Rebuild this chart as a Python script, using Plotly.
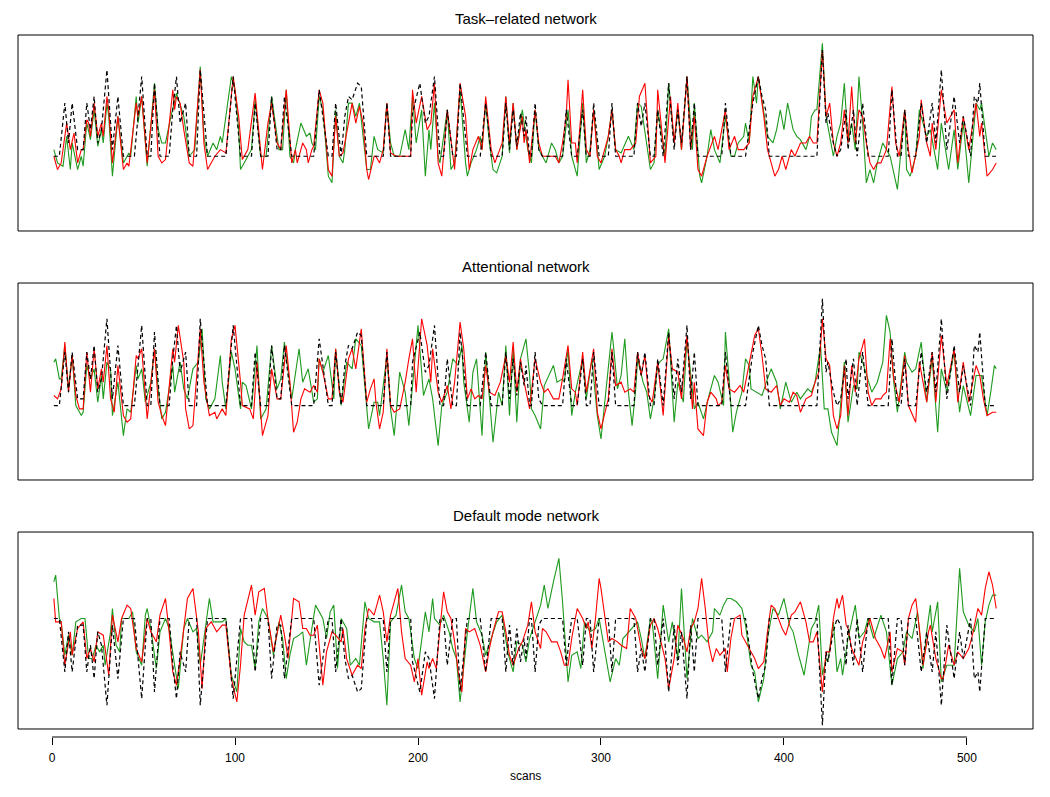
import plotly.graph_objects as go

# ---------------- data: (scan, value) pairs ----------------
TASK_MODEL = [(1,0),(4,0),(7,16),(9,4),(11,16),(14,2),(17,2),(19,16),(21,8),(23,18),(25,4),(27,8),(30,26),(33,2),(36,18),(39,0),(45,0),(47,12),(49,24),(52,0),(54,0),(56,22),(59,0),(64,0),(66,14),(68,24),(70,10),(73,16),(75,0),(79,0),(81,26),(85,0),(95,0),(99,24),(103,0),(109,0),(111,16),(114,0),(118,0),(120,18),(123,2),(125,2),(127,18),(131,0),(143,0),(146,20),(151,0),(153,0),(155,16),(158,0),(160,12),(162,18),(164,17),(167,22),(169,21),(172,0),(181,0),(183,16),(185,0),(196,0),(197,13),(201,22),(204,10),(206,12),(209,24),(212,0),(214,0),(216,14),(219,0),(221,0),(223,22),(227,0),(234,0),(237,16),(240,0),(246,0),(248,16),(250,2),(252,14),(254,3),(256,13),(258,6),(259,12),(261,0),(262,0),(264,16),(266,2),(268,0),(279,0),(281,14),(284,0),(287,0),(290,14),(292,0),(294,0),(296,16),(299,0),(304,0),(306,16),(308,0),(318,0),(320,16),(322,9),(324,16),(327,0),(329,0),(331,14),(334,0),(337,22),(340,2),(342,14),(344,4),(347,24),(349,2),(351,16),(353,0),(366,0),(368,16),(371,0),(379,0),(380,4),(383,16),(386,24),(388,18),(390,14),(392,0),(399,0),(418,0),(421,32),(423,10),(424,13),(427,4),(429,0),(431,2),(434,14),(435,2),(438,14),(440,0),(443,16),(446,0),(457,0),(459,20),(462,0),(464,0),(466,14),(468,0),(472,0),(475,16),(478,4),(481,16),(483,4),(486,26),(489,2),(493,18),(496,4),(498,12),(502,0),(504,18),(506,16),(507,22),(510,0),(516,0)]

DMN_MODEL = [(1,0),(4,0),(7,-16),(9,-4),(11,-16),(14,-2),(17,-2),(19,-16),(21,-8),(23,-18),(25,-4),(27,-8),(30,-26),(33,-2),(36,-18),(39,0),(45,0),(47,-12),(49,-24),(52,0),(54,0),(56,-22),(59,0),(64,0),(66,-14),(68,-24),(70,-10),(73,-16),(75,0),(79,0),(81,-26),(85,0),(95,0),(99,-24),(103,0),(109,0),(111,-16),(114,0),(118,0),(120,-18),(123,-2),(125,-2),(127,-18),(131,0),(143,0),(146,-20),(151,0),(153,0),(155,-16),(158,0),(160,-12),(162,-18),(164,-17),(167,-22),(169,-21),(172,0),(181,0),(183,-16),(185,0),(196,0),(197,-13),(201,-22),(204,-10),(206,-12),(209,-24),(212,0),(214,0),(216,-14),(219,0),(221,0),(223,-22),(227,0),(234,0),(237,-16),(240,0),(246,0),(248,-16),(250,-2),(252,-14),(254,-3),(256,-13),(258,-6),(259,-12),(261,0),(262,0),(264,-16),(266,-2),(268,0),(279,0),(281,-14),(284,0),(287,0),(290,-14),(292,0),(294,0),(296,-16),(299,0),(304,0),(306,-16),(308,0),(318,0),(320,-16),(322,-9),(324,-16),(327,0),(329,0),(331,-14),(334,0),(337,-22),(340,-2),(342,-14),(344,-4),(347,-24),(349,-2),(351,-16),(353,0),(366,0),(368,-16),(371,0),(379,0),(380,-4),(383,-16),(386,-24),(388,-18),(390,-14),(392,0),(399,0),(418,0),(421,-32),(423,-10),(424,-13),(427,-4),(429,0),(431,-2),(434,-14),(435,-2),(438,-14),(440,0),(443,-16),(446,0),(457,0),(459,-20),(462,0),(464,0),(466,-14),(468,0),(472,0),(475,-16),(478,-4),(481,-16),(483,-4),(486,-26),(489,-2),(493,-18),(496,-4),(498,-12),(502,0),(504,-18),(506,-16),(507,-22),(510,0),(516,0)]

TASK_RED = [(1,0),(3,-4),(5,-2),(8,10),(10,2),(12,7),(14,-2),(16,2),(17,2),(19,11),(20,10),(21,6),(23,16),(25,6),(27,10),(28,6),(30,18),(31,14),(33,-2),(36,12),(39,-4),(41,-2),(42,-3),(46,16),(47,12),(49,18),(52,-2),(56,20),(58,0),(60,-2),(62,-1),(66,20),(67,14),(68,18),(70,16),(72,8),(75,-2),(77,-3),(81,26),(83,4),(85,-4),(89,0),(92,2),(95,1),(99,24),(102,12),(104,-1),(107,2),(111,19),(115,-4),(118,10),(120,16),(123,4),(125,2),(128,20),(131,-2),(133,2),(134,-2),(137,4),(139,2),(140,-2),(142,2),(143,3),(146,20),(148,16),(151,-4),(153,-6),(155,12),(157,0),(159,1),(162,10),(164,16),(166,10),(168,15),(170,10),(172,-4),(173,-7),(176,0),(177,0),(179,-2),(181,2),(183,16),(185,1),(188,0),(192,0),(196,0),(197,20),(199,10),(202,18),(205,8),(207,10),(209,22),(211,-2),(213,-6),(216,14),(218,4),(220,-4),(223,22),(226,12),(228,-4),(230,2),(233,6),(235,2),(237,18),(240,2),(242,-2),(246,4),(248,18),(250,4),(252,16),(254,2),(257,12),(258,4),(259,8),(261,-2),(264,14),(266,4),(268,0),(272,0),(275,0),(277,-2),(279,4),(281,12),(282,23),(284,4),(286,4),(287,-2),(290,20),(292,2),(294,0),(296,14),(298,0),(300,-2),(304,6),(306,14),(308,2),(310,0),(311,-2),(313,2),(316,2),(319,4),(321,18),(324,22),(327,-2),(330,0),(331,20),(335,-2),(338,18),(340,4),(342,16),(344,2),(347,24),(349,2),(351,12),(353,-4),(355,-6),(358,0),(362,6),(364,2),(368,14),(370,2),(373,6),(375,2),(378,2),(381,4),(383,18),(386,24),(389,12),(391,2),(393,-2),(395,-6),(397,-4),(399,0),(401,-4),(404,2),(406,0),(409,4),(412,4),(414,6),(416,4),(418,4),(421,32),(423,12),(425,16),(427,4),(429,0),(431,4),(433,14),(435,4),(437,21),(439,4),(441,14),(443,12),(445,4),(447,-2),(449,-4),(451,-2),(453,-2),(456,2),(459,21),(461,4),(463,0),(466,14),(468,2),(470,-5),(474,6),(475,17),(478,4),(480,0),(481,10),(483,2),(486,20),(489,10),(493,14),(495,-2),(498,12),(501,2),(505,16),(507,6),(508,10),(511,-6),(514,-4),(516,-2)]

TASK_GREEN = [(1,2),(3,-2),(6,-3),(8,6),(10,-4),(11,4),(14,-4),(16,0),(17,-3),(19,10),(21,5),(23,14),(25,3),(27,8),(28,4),(30,16),(31,12),(33,-6),(36,12),(39,-2),(42,1),(43,0),(46,18),(47,10),(49,18),(52,-3),(56,22),(58,8),(60,4),(62,4),(65,12),(68,19),(72,12),(75,0),(78,2),(81,27),(83,6),(85,0),(88,4),(90,2),(92,6),(93,4),(98,24),(100,20),(102,8),(103,-4),(107,0),(109,2),(111,17),(114,0),(117,0),(120,18),(124,2),(126,2),(128,20),(130,0),(132,-2),(133,2),(136,10),(139,6),(141,7),(142,4),(144,2),(146,18),(148,14),(151,-6),(153,-8),(155,14),(157,0),(159,-2),(160,2),(162,16),(164,16),(166,12),(168,16),(172,-4),(174,-4),(176,6),(178,2),(181,1),(183,16),(185,4),(187,0),(190,0),(193,8),(195,2),(197,18),(199,4),(202,14),(204,-6),(206,8),(207,2),(209,16),(211,0),(212,-2),(216,14),(218,-4),(220,-2),(223,20),(226,-2),(227,-6),(229,-2),(232,2),(234,6),(235,2),(237,16),(239,4),(241,-4),(243,-5),(246,0),(248,18),(250,1),(252,16),(254,2),(257,14),(259,6),(260,2),(262,-2),(264,14),(266,2),(270,-2),(273,4),(275,2),(277,-2),(279,0),(282,14),(284,0),(287,-6),(290,16),(292,-2),(294,2),(296,14),(299,-4),(302,0),(304,6),(306,14),(308,2),(311,1),(315,6),(318,2),(320,16),(322,15),(327,-4),(329,-2),(331,14),(335,0),(337,22),(340,4),(342,14),(344,2),(347,24),(350,2),(351,16),(354,-6),(355,-8),(358,0),(360,8),(362,2),(365,-2),(368,12),(371,0),(373,0),(375,4),(378,6),(379,10),(381,4),(383,24),(385,16),(386,24),(391,6),(394,4),(396,8),(398,14),(400,8),(402,16),(405,8),(407,6),(409,5),(412,2),(414,6),(415,12),(417,14),(418,14),(421,34),(423,12),(427,0),(429,6),(431,10),(433,22),(435,4),(437,10),(439,2),(441,24),(443,10),(445,-8),(447,-4),(449,-8),(451,-2),(454,4),(456,2),(458,0),(462,-10),(466,14),(467,-4),(469,-6),(472,0),(474,14),(478,6),(480,8),(482,2),(484,-4),(486,10),(490,-4),(493,8),(495,-4),(498,10),(501,-8),(505,16),(507,14),(508,16),(512,0),(514,4),(516,2)]

ATT_RED = [(1,3),(3,2),(5,5),(7,19),(9,4),(11,15),(13,3),(15,-1),(17,-1),(19,16),(21,4),(23,17),(25,5),(27,11),(28,7),(30,18),(32,2),(34,-2),(36,12),(39,-3),(41,-5),(43,-4),(46,15),(47,14),(49,17),(52,-4),(56,17),(58,1),(60,-3),(62,-6),(66,17),(67,13),(69,24),(72,13),(73,-1),(75,-7),(77,-6),(81,23),(83,7),(86,-3),(89,-2),(90,-4),(93,-1),(95,-3),(98,20),(100,24),(103,7),(104,0),(108,-1),(110,-4),(112,13),(115,-9),(118,-3),(120,11),(123,2),(125,2),(128,18),(130,7),(132,-8),(134,-5),(136,2),(138,5),(141,4),(143,6),(145,4),(146,14),(148,10),(151,2),(153,2),(155,17),(157,4),(159,1),(162,14),(164,17),(166,11),(169,23),(171,8),(172,1),(174,5),(176,8),(177,1),(179,-7),(181,-2),(183,17),(185,0),(187,-2),(190,-1),(193,7),(195,14),(197,20),(199,4),(202,26),(205,18),(207,7),(208,17),(211,4),(213,1),(216,6),(218,-1),(220,7),(223,25),(225,17),(227,2),(229,5),(231,2),(233,3),(235,2),(237,12),(239,4),(242,3),(245,7),(248,15),(250,7),(252,19),(254,4),(256,14),(258,7),(261,-1),(264,14),(267,7),(269,4),(271,5),(274,2),(277,2),(279,8),(282,18),(284,5),(286,4),(287,0),(290,16),(292,4),(296,17),(298,-2),(300,-7),(304,2),(306,17),(308,6),(311,7),(313,4),(316,5),(318,4),(320,16),(322,9),(324,15),(326,3),(328,1),(331,13),(334,-3),(337,21),(339,11),(342,10),(344,2),(347,21),(350,-1),(351,7),(353,-7),(356,-9),(358,1),(360,4),(363,2),(364,0),(366,1),(368,12),(370,5),(373,4),(376,6),(378,4),(381,12),(384,21),(386,23),(388,15),(390,5),(393,4),(396,6),(398,0),(400,2),(403,1),(405,4),(407,3),(409,-2),(412,2),(415,3),(417,7),(419,10),(421,26),(423,14),(425,12),(427,-3),(429,-7),(431,-3),(433,12),(435,-3),(437,12),(439,4),(441,14),(444,20),(446,4),(448,0),(450,2),(453,2),(454,3),(456,4),(458,20),(460,8),(463,1),(466,15),(468,0),(472,-5),(474,13),(478,1),(481,16),(483,1),(486,21),(489,6),(493,17),(495,1),(498,13),(501,1),(505,12),(507,9),(509,2),(511,-3),(514,-2),(516,-2)]

ATT_GREEN = [(1,13),(2,14),(4,8),(5,8),(7,18),(9,5),(11,15),(13,0),(16,-3),(17,-2),(19,12),(21,8),(23,11),(25,1),(27,9),(28,2),(30,13),(32,11),(33,-3),(36,7),(39,-9),(41,-1),(43,-2),(46,12),(47,8),(49,11),(51,1),(54,7),(56,17),(58,5),(60,-4),(62,-2),(66,12),(67,4),(70,13),(72,5),(74,2),(77,11),(80,13),(82,23),(84,2),(86,-1),(89,2),(92,15),(93,7),(95,-1),(98,16),(100,11),(103,-1),(104,7),(106,6),(109,-1),(112,18),(114,-4),(117,-1),(120,18),(123,5),(125,8),(127,19),(131,2),(135,17),(137,7),(140,11),(143,1),(145,2),(146,14),(148,10),(151,15),(154,2),(155,17),(158,0),(161,13),(164,11),(166,20),(169,18),(171,6),(173,-7),(176,1),(178,1),(179,-3),(183,15),(185,-1),(187,-9),(190,10),(193,4),(195,-6),(197,7),(200,24),(203,3),(206,8),(208,2),(211,-12),(213,0),(216,4),(219,14),(222,12),(224,18),(225,7),(228,-5),(230,10),(232,14),(235,-9),(237,16),(241,-11),(244,4),(246,0),(248,18),(250,-3),(252,17),(254,-5),(256,14),(259,20),(261,9),(262,-1),(264,-3),(267,-7),(269,6),(273,11),(274,12),(276,7),(279,8),(280,7),(282,17),(284,-3),(286,4),(290,14),(292,2),(295,14),(298,-3),(300,-10),(304,12),(306,22),(307,17),(309,5),(311,9),(313,20),(315,4),(317,-6),(319,5),(320,14),(323,7),(325,4),(327,-4),(329,2),(331,12),(332,13),(334,14),(337,23),(340,-5),(342,7),(345,1),(347,20),(351,-1),(353,1),(356,-4),(359,3),(362,9),(364,7),(367,0),(368,22),(370,8),(372,-8),(374,-2),(377,4),(379,14),(381,12),(382,5),(385,4),(388,3),(391,8),(393,11),(396,7),(398,-1),(401,7),(404,1),(407,4),(409,2),(413,5),(415,4),(417,7),(420,18),(422,-1),(424,-1),(426,-8),(428,-11),(429,-12),(433,13),(435,-5),(438,6),(440,5),(441,16),(443,13),(448,4),(451,7),(454,13),(456,27),(458,22),(460,7),(462,-2),(466,16),(467,13),(470,10),(472,11),(475,19),(478,1),(481,14),(484,-8),(486,11),(489,4),(493,16),(496,-2),(498,6),(502,-3),(505,9),(508,9),(511,-3),(513,4),(515,12),(516,11)]

DMN_RED = [(1,6),(2,-1),(5,-1),(7,-14),(10,-4),(11,-11),(14,-3),(17,-1),(19,-12),(21,-9),(23,-13),(25,-4),(28,-5),(31,-17),(33,1),(36,-7),(38,0),(41,4),(43,3),(46,-9),(49,-13),(52,0),(54,-4),(57,-7),(59,1),(62,6),(64,-4),(66,-16),(68,-20),(70,-12),(74,6),(77,9),(80,-4),(82,-21),(84,-3),(87,-1),(90,-4),(93,-2),(95,-2),(98,-18),(101,-25),(103,-14),(105,1),(107,6),(109,10),(111,1),(113,8),(116,9),(118,0),(121,-10),(123,-4),(125,1),(127,-5),(129,-12),(132,6),(135,5),(137,-3),(139,-3),(141,-5),(143,-5),(145,-2),(148,-20),(150,-10),(153,-4),(155,-5),(158,-7),(159,-3),(161,-12),(164,-17),(167,-14),(169,-15),(171,-3),(173,3),(176,1),(179,7),(181,2),(183,-7),(185,1),(187,5),(189,9),(191,-4),(193,-12),(196,-14),(198,-19),(200,-12),(202,-23),(205,-13),(206,-15),(208,-12),(210,-15),(212,-3),(214,8),(216,2),(218,0),(220,-7),(222,-16),(224,-22),(226,-3),(228,-4),(231,-3),(234,-8),(237,-16),(239,-9),(241,-4),(244,2),(246,2),(248,-4),(250,-11),(252,-14),(255,-9),(257,-7),(260,-2),(262,5),(264,-4),(267,-9),(268,-3),(270,-4),(273,-7),(276,-7),(278,-10),(280,-14),(282,-14),(284,-6),(287,3),(290,0),(292,-3),(293,-1),(295,-9),(297,0),(299,12),(300,9),(304,-7),(306,-6),(309,-7),(311,-8),(314,-9),(316,3),(319,0),(322,-9),(324,-12),(327,-2),(329,0),(331,-3),(333,-8),(335,-12),(337,-21),(340,-12),(342,-2),(345,-6),(347,-10),(349,-3),(351,-1),(353,3),(355,12),(357,3),(359,-8),(361,-13),(363,-9),(365,-11),(368,-9),(369,-16),(371,-6),(373,0),(376,1),(377,-5),(381,-9),(384,-12),(386,-15),(389,-13),(391,-4),(393,4),(395,3),(399,-3),(401,-5),(404,1),(406,2),(409,5),(412,-1),(414,-7),(416,-7),(418,-4),(421,-22),(423,-10),(425,-10),(427,0),(429,6),(430,3),(432,7),(434,-2),(435,-3),(437,-9),(441,-14),(443,-7),(447,0),(450,-6),(453,-9),(455,-12),(458,-4),(459,-16),(462,-9),(465,-10),(466,-14),(468,0),(470,4),(472,6),(474,-3),(476,-14),(479,-4),(480,-2),(483,-12),(486,-18),(487,-18),(490,-8),(493,-14),(495,-10),(498,-12),(501,-9),(503,-5),(506,3),(508,1),(510,9),(512,14),(514,10),(516,3)]

DMN_GREEN = [(1,11),(2,13),(4,0),(5,-1),(7,-11),(9,-5),(11,-11),(13,-1),(16,0),(18,0),(20,-12),(22,-12),(24,-8),(26,-10),(28,-8),(29,-14),(32,-4),(33,3),(35,-8),(37,-10),(38,0),(42,0),(44,2),(46,-10),(49,-14),(51,1),(52,3),(54,-3),(57,-15),(59,-4),(62,0),(64,-3),(67,-14),(69,-21),(72,-3),(74,0),(77,-4),(79,-3),(81,-14),(86,6),(88,-1),(91,-1),(93,-1),(95,0),(98,-17),(101,-22),(103,-3),(105,-7),(107,-8),(109,-8),(111,-15),(113,-1),(115,3),(118,0),(121,-11),(124,-1),(126,-6),(128,-18),(130,-11),(132,-6),(135,-5),(137,-4),(139,-14),(142,-3),(144,4),(148,0),(150,-6),(152,2),(154,4),(156,-15),(158,0),(161,-3),(163,-14),(166,-12),(168,-14),(171,5),(173,0),(176,-1),(179,-1),(181,-12),(183,-26),(185,-1),(188,1),(191,10),(193,2),(195,0),(198,-12),(200,-15),(204,2),(206,-4),(208,6),(209,0),(212,-2),(214,1),(217,-4),(219,-9),(221,-12),(223,-25),(227,-4),(230,9),(232,-1),(235,-5),(237,-11),(240,-6),(243,-1),(246,1),(249,-10),(252,-16),(254,-7),(257,-8),(259,-13),(261,-6),(264,-1),(267,4),(269,10),(271,3),(274,11),(277,18),(279,5),(282,-19),(284,-11),(287,-10),(289,-15),(291,-1),(294,-4),(297,-3),(299,0),(302,-9),(305,-19),(308,-12),(310,-14),(312,-6),(315,-4),(317,-3),(320,-1),(322,-6),(324,-12),(327,0),(328,-1),(331,-18),(334,4),(337,-7),(339,-1),(342,-12),(344,9),(347,-18),(350,0),(353,-6),(355,-5),(358,-7),(361,-4),(362,3),(365,1),(367,4),(369,6),(371,6),(374,5),(377,3),(379,-2),(382,-14),(384,-16),(386,-25),(389,-18),(391,-6),(394,3),(397,1),(400,6),(403,-2),(405,-4),(408,-11),(411,-17),(415,-3),(417,-1),(419,4),(421,-17),(423,-12),(424,-13),(427,-1),(429,-16),(431,-12),(432,-17),(435,-6),(439,4),(441,-6),(444,-4),(446,0),(449,-6),(453,1),(456,-4),(459,-20),(462,-12),(465,-10),(467,-4),(470,-6),(473,2),(476,-15),(478,-4),(480,4),(481,-4),(484,5),(486,-19),(489,-14),(493,-14),(496,15),(498,2),(501,-2),(504,-4),(506,0),(508,-14),(510,-1),(512,4),(514,7),(516,7)]

PANEL_TITLES = ["Task\u2013related network", "Attentional network", "Default mode network"]
X_TICKS = [0, 100, 200, 300, 400, 500]
X_LABEL = "scans"

# ---------------- styling ----------------
RED = "#FF0000"
GREEN = "#1E9A1E"
BLACK = "#000000"
FONT = "Liberation Sans, Arial, sans-serif"

panels = [
    (TASK_GREEN, TASK_RED, TASK_MODEL, [-22.5, 36.5]),
    (ATT_GREEN, ATT_RED, TASK_MODEL, [-22.3, 36.7]),
    (DMN_GREEN, DMN_RED, DMN_MODEL, [-33.1, 25.9]),
]

# page has an 8px body margin; figure drawn at 1042x789 so plot boxes land
# at x 18..1033 and y 35..231 / 283..480 / 532..729 of the window.
domains = [[0.7208, 1.0], [0.3661, 0.6467], [0.0114, 0.2920]]
XR = [-18.6, 536.1]

fig = go.Figure()
shapes = []
annotations = []
for i, (g, r, m, yr) in enumerate(panels):
    n = "" if i == 0 else str(i + 1)
    xa, ya = "x" + n, "y" + n
    for series, col, dash, w in ((g, GREEN, None, 1.1), (r, RED, None, 1.1), (m, BLACK, "4px,3px", 1.2)):
        xs = [p[0] for p in series]
        ys = [p[1] for p in series]
        fig.add_trace(go.Scatter(x=xs, y=ys, mode="lines", xaxis=xa, yaxis=ya,
                                 line=dict(color=col, width=w, dash=dash),
                                 showlegend=False, hoverinfo="skip"))
    fig.layout["yaxis" + n] = dict(domain=domains[i], range=yr, visible=False,
                                   anchor=xa, fixedrange=True)
    if i < 2:
        fig.layout["xaxis" + n] = dict(range=XR, visible=False, anchor=ya)
    else:
        fig.layout["xaxis" + n] = dict(range=XR, anchor="free", position=0,
                                       tickmode="array", tickvals=X_TICKS,
                                       ticktext=[str(t) for t in X_TICKS],
                                       ticks="outside", ticklen=7, tickwidth=1,
                                       tickcolor="black", showline=False,
                                       showgrid=False, zeroline=False,
                                       ticklabelstandoff=3,
                                       tickfont=dict(family=FONT, size=12, color="black"))
    shapes.append(dict(type="rect", xref=xa + " domain", yref=ya + " domain",
                       x0=0, x1=1, y0=0, y1=1, line=dict(color="black", width=1)))
    annotations.append(dict(text=PANEL_TITLES[i], x=0.5, xref="paper",
                            y=domains[i][1], yref="paper", yanchor="bottom",
                            yshift=6, showarrow=False,
                            font=dict(family=FONT, size=15, color="black")))

# bottom axis line from first to last tick
shapes.append(dict(type="line", xref="x3", yref="paper", x0=X_TICKS[0], x1=X_TICKS[-1],
                   y0=0, y1=0, line=dict(color="black", width=1)))
annotations.append(dict(text=X_LABEL, x=0.5, xref="paper", y=0, yref="paper",
                        yanchor="top", yshift=-30, showarrow=False,
                        font=dict(family=FONT, size=12, color="black")))

fig.update_layout(width=1042, height=789, margin=dict(l=10, r=17, t=27, b=60),
                  paper_bgcolor="white", plot_bgcolor="white",
                  shapes=shapes, annotations=annotations, showlegend=False)

fig.write_html("out.html")
